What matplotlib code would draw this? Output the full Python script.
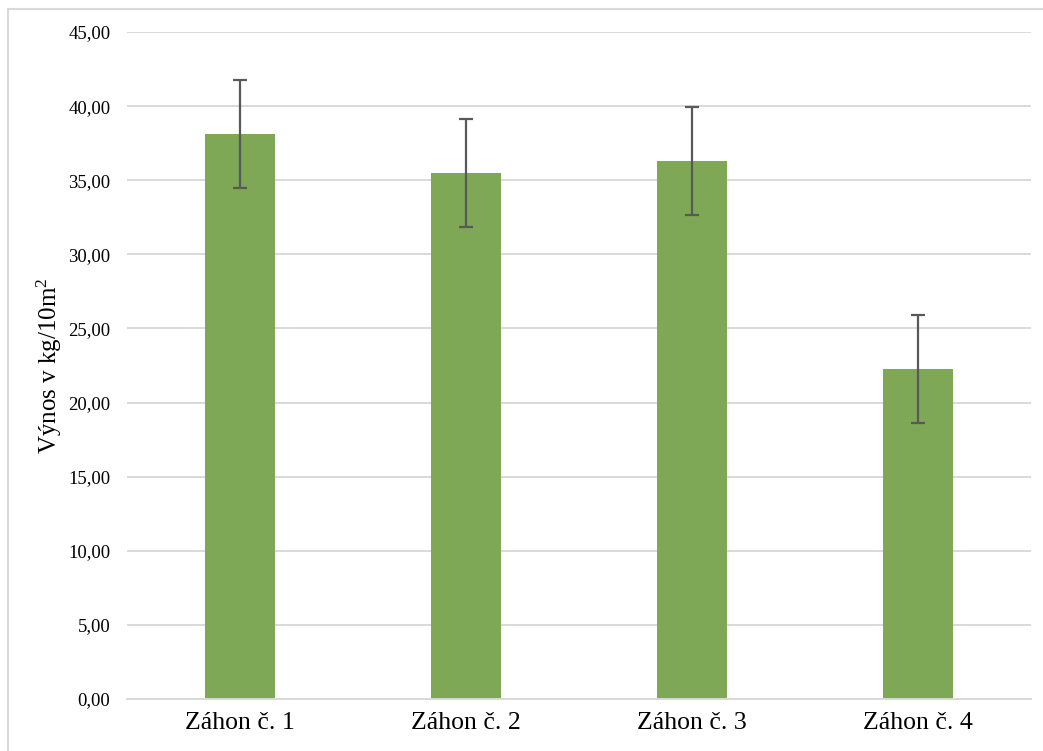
import matplotlib
matplotlib.use("Agg")
import matplotlib.pyplot as plt
from matplotlib.patches import Rectangle
from matplotlib.ticker import FuncFormatter, MultipleLocator

categories = ["Záhon č. 1", "Záhon č. 2", "Záhon č. 3", "Záhon č. 4"]
values = [38.12, 35.49, 36.30, 22.27]
errors = [3.65, 3.64, 3.65, 3.65]

plt.rcParams['font.family'] = ['Liberation Serif', 'DejaVu Serif']
plt.rcParams['mathtext.fontset'] = 'custom'
plt.rcParams['mathtext.rm'] = 'Liberation Serif'
plt.rcParams['mathtext.it'] = 'Liberation Serif:italic'

fig = plt.figure(figsize=(10.43, 7.51), dpi=100)
ax = fig.add_axes([0.1218, 0.0692, 0.9885 - 0.1218, 0.9574 - 0.0692])

x = list(range(len(categories)))
ax.bar(x, values, width=0.31, color='#7EA855', zorder=2)
ax.errorbar(x, values, yerr=errors, fmt='none', ecolor='#595959',
            elinewidth=1.6, capsize=4.7, capthick=1.6, zorder=3)

ax.set_xlim(-0.5, 3.5)
ax.set_ylim(0, 45)
ax.yaxis.set_major_locator(MultipleLocator(5))
ax.yaxis.set_major_formatter(FuncFormatter(lambda v, p: f"{v:.2f}".replace('.', ',')))
ax.grid(axis='y', color='#d9d9d9', linewidth=1.4, zorder=0)
ax.set_axisbelow(True)
for s in ['top', 'right', 'left']:
    ax.spines[s].set_visible(False)
ax.spines['bottom'].set_color('#d9d9d9')
ax.spines['bottom'].set_linewidth(1.4)
ax.set_xticks(x)
ax.set_xticklabels(categories, fontsize=18.5)
ax.tick_params(axis='x', length=0, pad=9)
ax.tick_params(axis='y', length=0, pad=12, labelsize=13.5)
ax.set_ylabel(r"Výnos v kg/10m$^\mathrm{2}$", fontsize=18, labelpad=3)

fig.patches.append(Rectangle((8 / 1043, -0.1), 1.2, 1 - 9 / 751 + 0.1,
                             transform=fig.transFigure, fill=False,
                             edgecolor='#d9d9d9', linewidth=1.5))

fig.savefig("out.png", dpi=100)
